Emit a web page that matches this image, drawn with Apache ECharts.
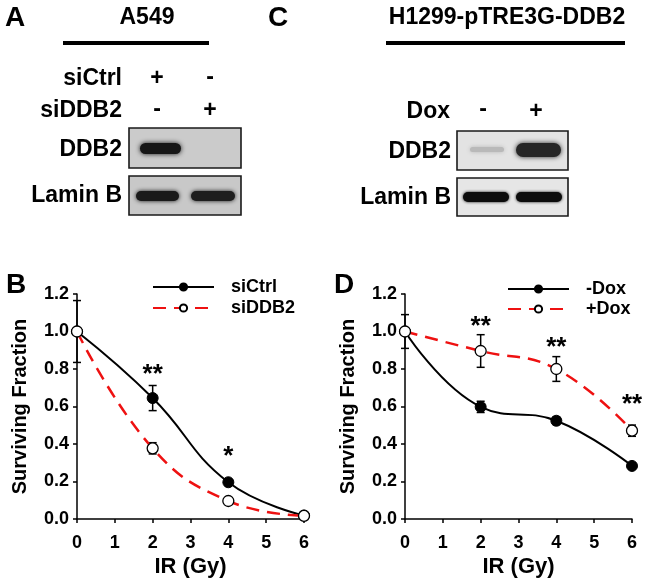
<!DOCTYPE html>
<html>
<head>
<meta charset="utf-8">
<script src="https://cdn.jsdelivr.net/npm/echarts@6/dist/echarts.min.js"></script>
<style>
html,body{margin:0;padding:0;background:#fff;}
#chart{width:648px;height:584px;}
</style>
</head>
<body>
<div id="chart"></div>
<script>
// ---- data ----
const doses = [0, 2, 4, 6];
const xTicks = [0, 1, 2, 3, 4, 5, 6];
const yTicks = [0, 0.2, 0.4, 0.6, 0.8, 1.0, 1.2];

const siCtrl = [1.0, 0.645, 0.196, 0.019];
const siCtrlErr = [0.165, 0.067, 0.012, 0.006];
const siDDB2 = [1.0, 0.377, 0.096, 0.017];
const siDDB2Err = [0.0, 0.03, 0.01, 0.006];

const minusDox = [1.0, 0.598, 0.524, 0.283];
const minusDoxErr = [0.09, 0.03, 0.02, 0.015];
const plusDox = [1.0, 0.896, 0.80, 0.471];
const plusDoxErr = [0.0, 0.087, 0.066, 0.03];

const starsBx = [2, 4];
const starsBy = [0.77, 0.33];
const starsBtext = ['**', '*'];
const starsDx = [2, 4, 6];
const starsDy = [1.025, 0.915, 0.61];
const starsDtext = ['**', '**', '**'];

const namesB = ['siCtrl', 'siDDB2'];
const namesD = ['-Dox', '+Dox'];

// ---- helpers ----
const FONT = '"Liberation Sans", Arial, Helvetica, sans-serif';
function pairs(xs, ys) { return xs.map((x, i) => [x, ys[i]]); }
function errData(xs, ys, es) { return xs.map((x, i) => [x, ys[i] - es[i], ys[i] + es[i]]); }

function errRender(params, api) {
  const x = api.value(0);
  const lo = api.coord([x, api.value(1)]);
  const hi = api.coord([x, api.value(2)]);
  const w = 4;
  const st = { stroke: '#000', lineWidth: 1.5 };
  return {
    type: 'group',
    children: [
      { type: 'line', shape: { x1: lo[0], y1: lo[1], x2: hi[0], y2: hi[1] }, style: st },
      { type: 'line', shape: { x1: lo[0] - w, y1: lo[1], x2: lo[0] + w, y2: lo[1] }, style: st },
      { type: 'line', shape: { x1: hi[0] - w, y1: hi[1], x2: hi[0] + w, y2: hi[1] }, style: st }
    ]
  };
}
function starRender(texts) {
  return function (params, api) {
    const p = api.coord([api.value(0), api.value(1)]);
    return {
      type: 'text',
      style: {
        text: texts[params.dataIndex], x: p[0], y: p[1],
        align: 'center', verticalAlign: 'middle',
        font: 'bold 26px ' + FONT, fill: '#000'
      }
    };
  };
}

function xAxis(gi) {
  return {
    type: 'value', gridIndex: gi, min: 0, max: 6, interval: 1,
    name: 'IR (Gy)', nameLocation: 'middle', nameGap: 37,
    nameTextStyle: { fontSize: 22, fontWeight: 'bold', color: '#000', fontFamily: FONT },
    axisLine: { lineStyle: { color: '#000', width: 1.5 } },
    axisTick: { length: 4, lineStyle: { color: '#000', width: 1.5 } },
    axisLabel: { fontSize: 18, fontWeight: 'bold', color: '#000', margin: 15, fontFamily: FONT,
      formatter: v => xTicks.includes(v) ? String(v) : '' },
    splitLine: { show: false }
  };
}
function yAxis(gi) {
  return {
    type: 'value', gridIndex: gi, min: 0, max: 1.2, interval: 0.2,
    name: 'Surviving Fraction', nameLocation: 'middle', nameGap: 47,
    nameTextStyle: { fontSize: 20, fontWeight: 'bold', color: '#000', fontFamily: FONT },
    axisLine: { show: true, lineStyle: { color: '#000', width: 1.5 } },
    axisTick: { show: true, length: 4, lineStyle: { color: '#000', width: 1.5 } },
    axisLabel: { fontSize: 18, fontWeight: 'bold', color: '#000', margin: 8, fontFamily: FONT,
      formatter: v => yTicks.some(t => Math.abs(t - v) < 1e-9) ? v.toFixed(1) : '' },
    splitLine: { show: false }
  };
}

function solidSeries(name, data, xi) {
  return {
    name, type: 'line', xAxisIndex: xi, yAxisIndex: xi, data, smooth: 0.45, z: 3,
    symbol: 'circle', symbolSize: 11,
    itemStyle: { color: '#000', borderColor: '#000', borderWidth: 1 },
    lineStyle: { color: '#000', width: 2 }
  };
}
function dashSeries(name, data, xi) {
  return {
    name, type: 'line', xAxisIndex: xi, yAxisIndex: xi, data, smooth: 0.45, z: 4,
    symbol: 'circle', symbolSize: 11,
    itemStyle: { color: '#fff', borderColor: '#000', borderWidth: 1.3 },
    lineStyle: { color: '#ee1111', width: 2.5, type: [13, 8] }
  };
}

// ---- blot graphics ----
function box(x, y, w, h, fill) {
  return { type: 'rect', shape: { x, y, width: w, height: h }, style: { fill, stroke: '#1a1a1a', lineWidth: 1.6 } };
}
function band(x, y, w, h, fill, blur) {
  return { type: 'rect', shape: { x, y, width: w, height: h, r: h / 2 },
    style: { fill, shadowBlur: blur, shadowColor: fill } };
}
function txt(text, x, y, size, align) {
  return { type: 'text', style: { text, x, y, align: align || 'right', verticalAlign: 'middle',
    font: 'bold ' + size + 'px ' + FONT, fill: '#000' } };
}

const graphics = [
  txt('A', 5, 18, 28, 'left'),
  txt('A549', 147, 18, 23, 'center'),
  { type: 'rect', shape: { x: 63, y: 41, width: 146, height: 4 }, style: { fill: '#000' } },
  txt('siCtrl', 122, 79, 23),
  txt('+', 157, 79, 23, 'center'),
  txt('-', 210, 78, 23, 'center'),
  txt('siDDB2', 122, 111, 23),
  txt('-', 157, 110, 23, 'center'),
  txt('+', 210, 111, 23, 'center'),
  txt('DDB2', 122, 150, 23),
  txt('Lamin B', 122, 196, 23),
  box(129, 128, 112, 40, '#cbcbcb'),
  band(140, 143, 41, 11, '#161616', 5),
  box(129, 176, 112, 39, '#c8c8c8'),
  band(136, 191, 43, 10, '#1a1a1a', 4),
  band(191, 191, 44, 10, '#1e1e1e', 4),

  txt('C', 268, 18, 28, 'left'),
  txt('H1299-pTRE3G-DDB2', 507, 18, 23, 'center'),
  { type: 'rect', shape: { x: 386, y: 41, width: 239, height: 4 }, style: { fill: '#000' } },
  txt('Dox', 450, 112, 23),
  txt('-', 483, 110, 23, 'center'),
  txt('+', 536, 112, 23, 'center'),
  txt('DDB2', 451, 152, 23),
  txt('Lamin B', 451, 198, 23),
  box(457, 131, 111, 39, '#e3e3e3'),
  band(470, 147, 34, 5, '#b9b9b9', 4),
  band(516, 143, 45, 14, '#262626', 5),
  box(457, 178, 111, 38, '#e6e6e6'),
  band(463, 192, 46, 10, '#0c0c0c', 3),
  band(516, 192, 46, 10, '#0c0c0c', 3),

  txt('B', 6, 285, 28, 'left'),
  txt('D', 334, 285, 28, 'left')
];

const chart = echarts.init(document.getElementById('chart'), null, { renderer: 'canvas' });
chart.setOption({
  animation: false,
  backgroundColor: '#fff',
  textStyle: { fontFamily: FONT },
  grid: [
    { left: 77, width: 227, top: 294, height: 225 },
    { left: 405, width: 227, top: 294, height: 225 }
  ],
  xAxis: [xAxis(0), xAxis(1)],
  yAxis: [yAxis(0), yAxis(1)],
  legend: [
    { data: namesB, orient: 'vertical', left: 152, top: 278, itemWidth: 61, itemHeight: 9, itemGap: 3, padding: 0,
      textStyle: { fontSize: 18, fontWeight: 'bold', color: '#000', padding: [0, 0, 0, 12] } },
    { data: namesD, orient: 'vertical', left: 507, top: 280, itemWidth: 61, itemHeight: 9, itemGap: 2, padding: 0,
      textStyle: { fontSize: 18, fontWeight: 'bold', color: '#000', padding: [0, 0, 0, 12] } }
  ],
  series: [
    { type: 'custom', xAxisIndex: 0, yAxisIndex: 0, renderItem: errRender, z: 2, silent: true,
      data: errData(doses, siCtrl, siCtrlErr).concat(errData(doses, siDDB2, siDDB2Err)) },
    solidSeries(namesB[0], pairs(doses, siCtrl), 0),
    dashSeries(namesB[1], pairs(doses, siDDB2), 0),
    { type: 'custom', xAxisIndex: 0, yAxisIndex: 0, renderItem: starRender(starsBtext), z: 5, silent: true,
      data: pairs(starsBx, starsBy) },

    { type: 'custom', xAxisIndex: 1, yAxisIndex: 1, renderItem: errRender, z: 2, silent: true,
      data: errData(doses, minusDox, minusDoxErr).concat(errData(doses, plusDox, plusDoxErr)) },
    solidSeries(namesD[0], pairs(doses, minusDox), 1),
    dashSeries(namesD[1], pairs(doses, plusDox), 1),
    { type: 'custom', xAxisIndex: 1, yAxisIndex: 1, renderItem: starRender(starsDtext), z: 5, silent: true,
      data: pairs(starsDx, starsDy) }
  ],
  graphic: { elements: graphics }
});
</script>
</body>
</html>
